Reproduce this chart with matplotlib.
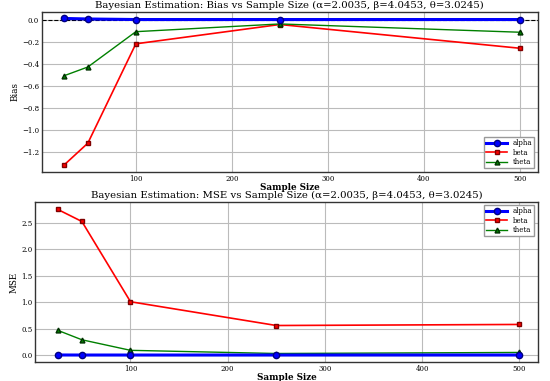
import numpy as np
import matplotlib
matplotlib.use("Agg")
import matplotlib.pyplot as plt

plt.rcParams['font.family'] = ['DejaVu Serif']

sample_sizes = [25, 50, 100, 250, 500]

bias_alpha = [0.010, 0.005, 0.000, 0.000, 0.000]
bias_beta = [-1.32, -1.12, -0.22, -0.045, -0.26]
bias_theta = [-0.51, -0.43, -0.11, -0.04, -0.115]

mse_alpha = [0.002, 0.001, 0.001, 0.001, 0.001]
mse_beta = [2.76, 2.53, 1.01, 0.56, 0.58]
mse_theta = [0.47, 0.29, 0.09, 0.03, 0.05]

params = "(α=2.0035, β=4.0453, θ=3.0245)"

fig = plt.figure(figsize=(5.5, 3.81), dpi=100)
ax1 = fig.add_axes([0.076, 0.549, 0.902, 0.42])
ax2 = fig.add_axes([0.064, 0.05, 0.914, 0.42])

def draw(ax, a, b, t, title, ylabel, loc):
    ax.plot(sample_sizes, a, color="blue", marker="o", lw=2.2, ms=4.5,
            mec="#000080", label="alpha", zorder=4)
    ax.plot(sample_sizes, b, color="red", marker="s", lw=1.2, ms=3.5,
            mec="#800000", label="beta", zorder=3)
    ax.plot(sample_sizes, t, color="green", marker="^", lw=1.0, ms=3.5,
            mec="#003000", label="theta", zorder=3)
    ax.set_title(title, fontsize=7.3, pad=3)
    ax.set_xlabel("Sample Size", fontsize=6.3, fontweight="bold", labelpad=0)
    ax.set_ylabel(ylabel, fontsize=6.3, labelpad=2)
    ax.tick_params(labelsize=5, length=0, pad=2)
    ax.grid(True, color="#bbbbbb", lw=0.8)
    ax.set_xticks([100, 200, 300, 400, 500])
    ax.set_xlim(2, 519)
    for s in ax.spines.values():
        s.set_color("#333333")
        s.set_linewidth(1.0)
    ax.legend(loc=loc, fontsize=5, handlelength=3, borderpad=0.3,
              labelspacing=0.2, framealpha=1, edgecolor="#999999", fancybox=False)

draw(ax1, bias_alpha, bias_beta, bias_theta,
     "Bayesian Estimation: Bias vs Sample Size " + params, "Bias", "lower right")
ax1.axhline(0, color="black", ls="--", lw=0.8, zorder=2)
ax1.set_ylim(-1.38, 0.07)
ax1.set_yticks(np.arange(-1.2, 0.01, 0.2))

draw(ax2, mse_alpha, mse_beta, mse_theta,
     "Bayesian Estimation: MSE vs Sample Size " + params, "MSE", "upper right")
ax2.set_ylim(-0.13, 2.90)
ax2.set_yticks([0.0, 0.5, 1.0, 1.5, 2.0, 2.5])

fig.savefig("out.png")
